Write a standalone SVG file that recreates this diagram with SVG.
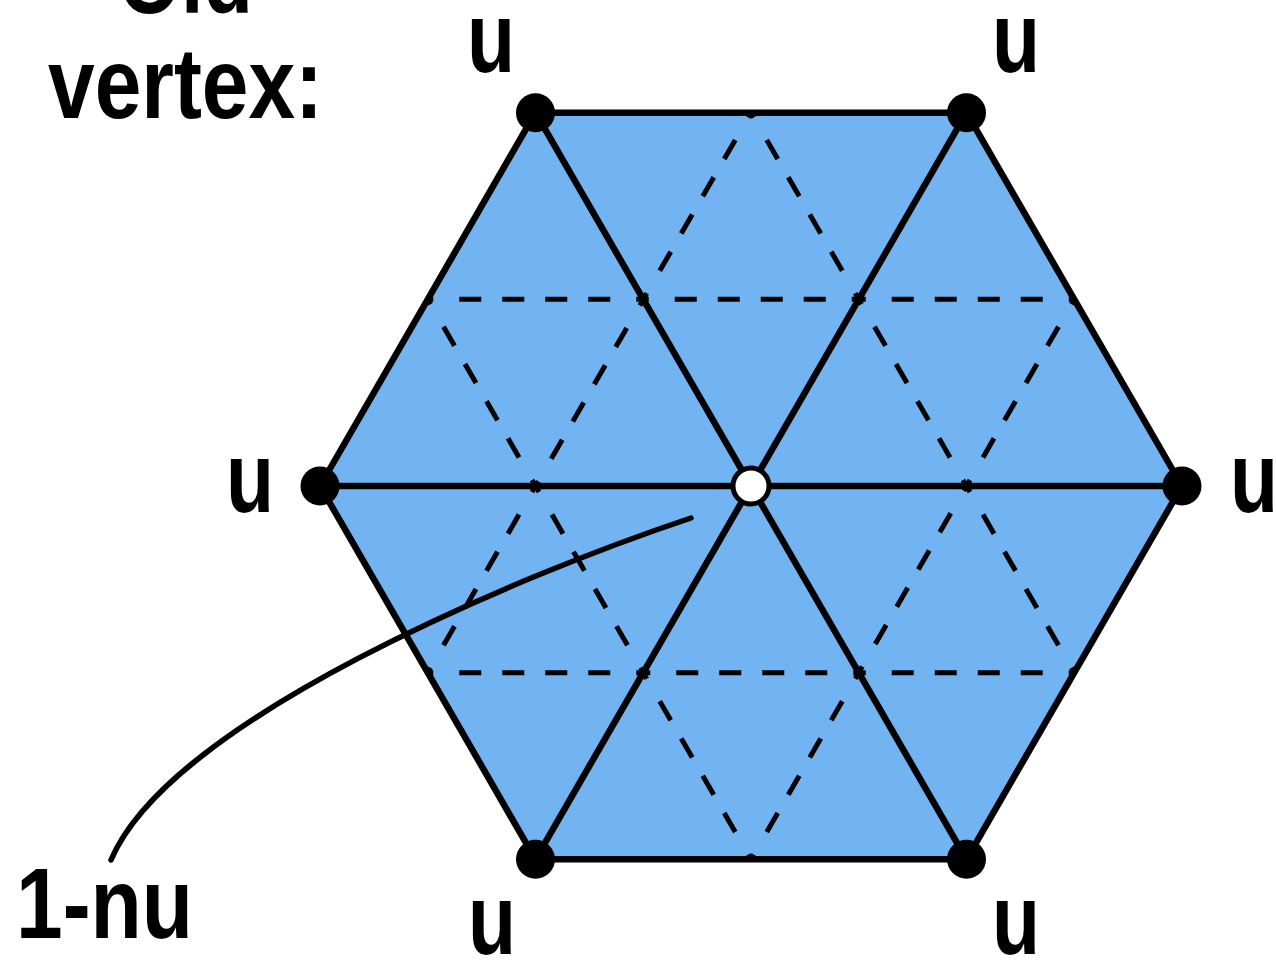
<svg xmlns="http://www.w3.org/2000/svg" width="1276" height="962" viewBox="0 0 1276 962">
<style>
.lbl{font-family:"Liberation Sans",Arial,sans-serif;font-weight:bold;font-size:100px;fill:#000;text-anchor:middle}
.solid{stroke:#000;stroke-width:6.5;fill:none;stroke-linecap:round}
.dash{stroke:#000;stroke-width:5;fill:none;stroke-dasharray:7 26 22 21 22 21 22 21 22 26 7 0}
.vtx{fill:#000}
</style>
<rect width="1276" height="962" fill="#fff"/>
<g id="hexagon">
<polygon points="320,486 535.5,112.7 966.5,112.7 1182,486 966.5,859.3 535.5,859.3" fill="#72b3f1" stroke="#000" stroke-width="6.5" stroke-linejoin="round"/>
</g>
<g id="connectors">
<g id="spokes">
<line class="solid" x1="320" y1="486" x2="1182" y2="486"/>
<line class="solid" x1="535.5" y1="112.7" x2="966.5" y2="859.3"/>
<line class="solid" x1="966.5" y1="112.7" x2="535.5" y2="859.3"/>
</g>
<g id="subdivision">
<line class="dash" x1="966.5" y1="486" x2="858.75" y2="299.35"/>
<line class="dash" x1="966.5" y1="486" x2="1074.25" y2="299.35"/>
<line class="dash" x1="858.75" y1="299.35" x2="1074.25" y2="299.35"/>
<line class="dash" x1="858.75" y1="299.35" x2="643.25" y2="299.35"/>
<line class="dash" x1="858.75" y1="299.35" x2="751" y2="112.7"/>
<line class="dash" x1="643.25" y1="299.35" x2="751" y2="112.7"/>
<line class="dash" x1="643.25" y1="299.35" x2="427.75" y2="299.35"/>
<line class="dash" x1="643.25" y1="299.35" x2="535.5" y2="486"/>
<line class="dash" x1="535.5" y1="486" x2="427.75" y2="299.35"/>
<line class="dash" x1="535.5" y1="486" x2="643.25" y2="672.65"/>
<line class="dash" x1="535.5" y1="486" x2="427.75" y2="672.65"/>
<line class="dash" x1="643.25" y1="672.65" x2="427.75" y2="672.65"/>
<line class="dash" x1="643.25" y1="672.65" x2="858.75" y2="672.65"/>
<line class="dash" x1="643.25" y1="672.65" x2="751" y2="859.3"/>
<line class="dash" x1="858.75" y1="672.65" x2="751" y2="859.3"/>
<line class="dash" x1="858.75" y1="672.65" x2="1074.25" y2="672.65"/>
<line class="dash" x1="858.75" y1="672.65" x2="966.5" y2="486"/>
<line class="dash" x1="966.5" y1="486" x2="1074.25" y2="672.65"/>
</g>
<path id="pointer" d="M691,518 C520,575 170,720 111,860" fill="none" stroke="#000" stroke-width="5.5" stroke-linecap="round"/>
</g>
<g id="old-vertices">
<circle class="vtx" cx="535.5" cy="112.7" r="19.5"/>
<circle class="vtx" cx="966.5" cy="112.7" r="19.5"/>
<circle class="vtx" cx="320" cy="486" r="19.5"/>
<circle class="vtx" cx="1182" cy="486" r="19.5"/>
<circle class="vtx" cx="535.5" cy="859.3" r="19.5"/>
<circle class="vtx" cx="966.5" cy="859.3" r="19.5"/>
</g>
<g id="new-vertex">
<circle cx="751" cy="486" r="18" fill="#fff" stroke="#000" stroke-width="5"/>
</g>
<g id="labels">
<text class="lbl" x="185.5" y="13" textLength="135" lengthAdjust="spacingAndGlyphs">Old</text>
<text class="lbl" x="185.5" y="118" textLength="275" lengthAdjust="spacingAndGlyphs">vertex:</text>
<text class="lbl" x="491" y="72" textLength="48" lengthAdjust="spacingAndGlyphs">u</text>
<text class="lbl" x="1016" y="72" textLength="48" lengthAdjust="spacingAndGlyphs">u</text>
<text class="lbl" x="250" y="512" textLength="48" lengthAdjust="spacingAndGlyphs">u</text>
<text class="lbl" x="1254" y="512" textLength="48" lengthAdjust="spacingAndGlyphs">u</text>
<text class="lbl" x="492" y="954" textLength="48" lengthAdjust="spacingAndGlyphs">u</text>
<text class="lbl" x="1016" y="954" textLength="48" lengthAdjust="spacingAndGlyphs">u</text>
<text class="lbl" x="104.5" y="938" textLength="177" lengthAdjust="spacingAndGlyphs">1-nu</text>
</g>
</svg>
